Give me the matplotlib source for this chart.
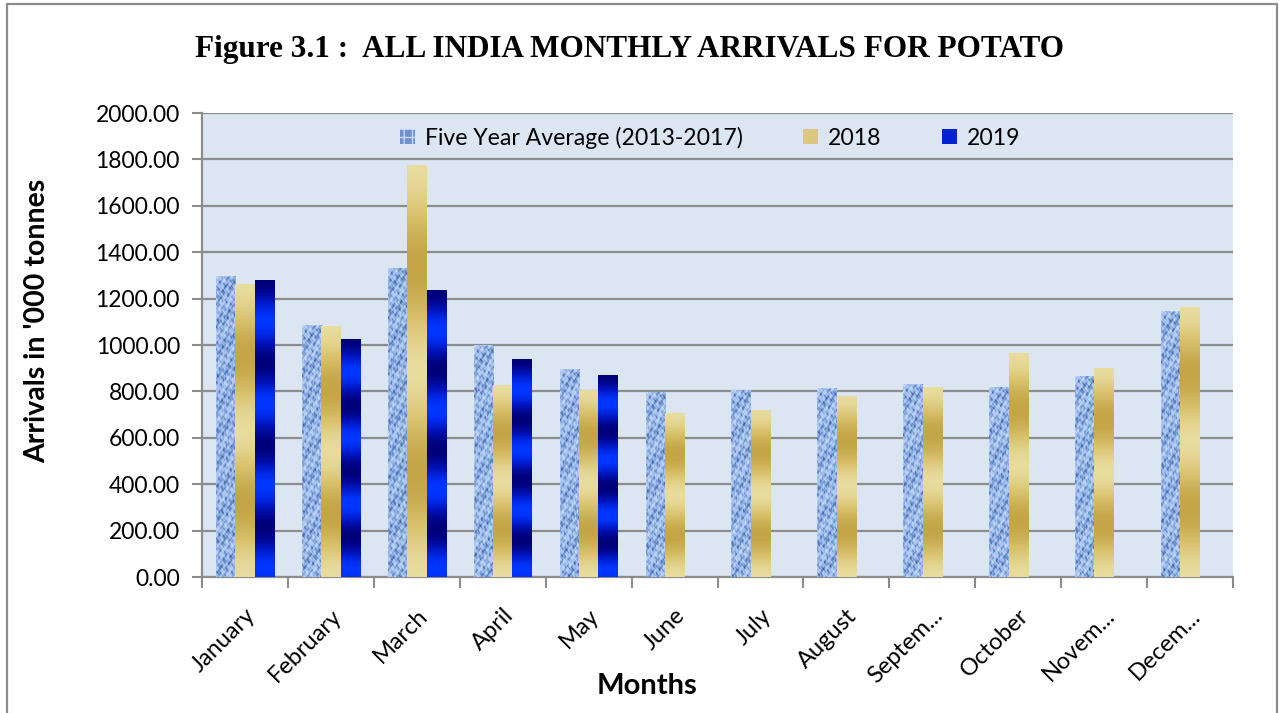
import numpy as np
import matplotlib
matplotlib.use("Agg")
import matplotlib.pyplot as plt
from matplotlib.colors import LinearSegmentedColormap
from matplotlib.patches import Rectangle, Patch

# data ('000 tonnes)
months = ["January", "February", "March", "April", "May", "June", "July",
          "August", "Septem...", "October", "Novem...", "Decem..."]
avg_13_17 = [1297, 1085, 1332, 999, 895, 798, 807, 813, 830, 821, 867, 1145]
arr_2018 = [1264, 1081, 1776, 826, 806, 705, 718, 782, 817, 964, 903, 1166]
arr_2019 = [1280, 1024, 1237, 938, 869, None, None, None, None, None, None, None]

series_names = ["Five Year Average (2013-2017)", "2018", "2019"]

plt.rcParams["font.family"] = ["Lato", "DejaVu Sans"]

fig = plt.figure(figsize=(12.79, 7.13), dpi=100)
ax = fig.add_axes([0.158, 0.1907, 0.806, 0.6508])
ax.set_facecolor("#DCE6F2")

# outer chart border
fig.patches.append(Rectangle((0.0055, -0.02), 0.9930, 1.0144, transform=fig.transFigure,
                             fill=False, edgecolor="#8C8C8C", linewidth=1.6))

cm_denim = LinearSegmentedColormap.from_list("denim", ["#1B3A74", "#4F76BA", "#9DBBEB", "#C6DAF8"])
cm_gold = LinearSegmentedColormap.from_list("gold", ["#C4A548", "#D9C16C", "#E8DB9E"])
cm_blue = LinearSegmentedColormap.from_list("blue", ["#00007A", "#0015C0", "#0036FF"])

width = 0.225
offsets = [-width, 0.0, width]


def texture(h_px, w_px=20):
    # deterministic mottled pattern for the average bars
    yy, xx = np.mgrid[0:h_px, 0:w_px].astype(float)
    t = (np.sin(xx * 0.9 + yy * 0.35) + np.sin(xx * 0.45 - yy * 0.8 + 1.3)
         + 0.8 * np.sin(xx * 1.3 + yy * 1.1 + 0.4) + 0.7 * np.sin(yy * 0.23 + xx * 0.2)
         + 0.6 * np.sin(xx * 2.1 - yy * 1.7 + 2.0) + 0.6 * np.sin(yy * 0.57 - xx * 1.7 + 0.9)
         + 0.5 * np.cos(xx * 0.31 * yy ** 0.5))
    t = (t - t.min()) / (t.max() - t.min())
    return np.clip(0.15 + 1.0 * t, 0, 1)


def stripes(h_px, cycles, phase):
    t = np.linspace(0, 1, max(h_px, 2))
    return (0.5 + 0.5 * np.cos(2 * np.pi * cycles * t + phase))[:, None]


px_per_unit = 464 / 2000.0
for s, (vals, cmap) in enumerate(zip([avg_13_17, arr_2018, arr_2019], [cm_denim, cm_gold, cm_blue])):
    for i, v in enumerate(vals):
        if v is None:
            continue
        x0 = i + offsets[s] - width / 2
        bar = ax.bar(i + offsets[s], v, width=width, color="none", edgecolor="none", zorder=3)[0]
        h_px = int(v * px_per_unit)
        if s == 0:
            img = texture(h_px)
        elif s == 1:
            img = stripes(h_px, 2.0, 0.0)
        else:
            img = 1 - stripes(h_px, 3.6, 0.0)
        im = ax.imshow(img, extent=[x0, x0 + width, 0, v], origin="upper", aspect="auto",
                       cmap=cmap, vmin=0, vmax=1, zorder=3, interpolation="bilinear")
        im.set_clip_path(bar)

ax.set_xlim(-0.5, 11.5)
ax.set_ylim(0, 2000)
ax.set_yticks(np.arange(0, 2001, 200))
ax.set_yticklabels([f"{v:.2f}" for v in np.arange(0, 2001, 200)], fontsize=16.5)
ax.grid(axis="y", color="#8C8C8C", linewidth=1.6, zorder=1)
ax.set_axisbelow(True)

ax.set_xticks(np.arange(12))
ax.set_xticklabels(months, rotation=45, ha="right", va="top", rotation_mode="anchor", fontsize=17)
ax.tick_params(axis="x", which="major", length=0, pad=20)
ax.set_xticks(np.arange(-0.5, 12, 1), minor=True)
ax.tick_params(axis="x", which="minor", length=8, width=1.5, color="#8C8C8C")
ax.tick_params(axis="y", length=7, width=1.5, color="#8C8C8C", pad=9)

for side in ["top", "right"]:
    ax.spines[side].set_visible(False)
ax.spines["left"].set_color("#8C8C8C")
ax.spines["left"].set_linewidth(1.6)
ax.spines["bottom"].set_color("#8C8C8C")
ax.spines["bottom"].set_linewidth(1.6)

fig.text(0.029, 0.55, "Arrivals in '000 tonnes", rotation=90, ha="center", va="center",
         fontsize=20.5, fontweight="bold")
fig.text(0.506, 0.038, "Months", ha="center", va="center", fontsize=21, fontweight="bold")

handles = [Patch(facecolor="#6F90CC", edgecolor="#C6DAF8", hatch="++", linewidth=0),
           Patch(facecolor="#DCC77E"),
           Patch(facecolor="#0022D0")]
ax.legend(handles, series_names, loc="upper center", bbox_to_anchor=(0.493, 1.015), ncol=3,
          frameon=False, fontsize=16.6, handlelength=0.65, handleheight=0.65, columnspacing=2.6,
          handletextpad=0.45)

fig.text(0.492, 0.93, "Figure 3.1 :  ALL INDIA MONTHLY ARRIVALS FOR POTATO", ha="center", va="center",
         fontsize=22.5, fontweight="bold", family="Liberation Serif")

fig.savefig("out.png", dpi=100)
